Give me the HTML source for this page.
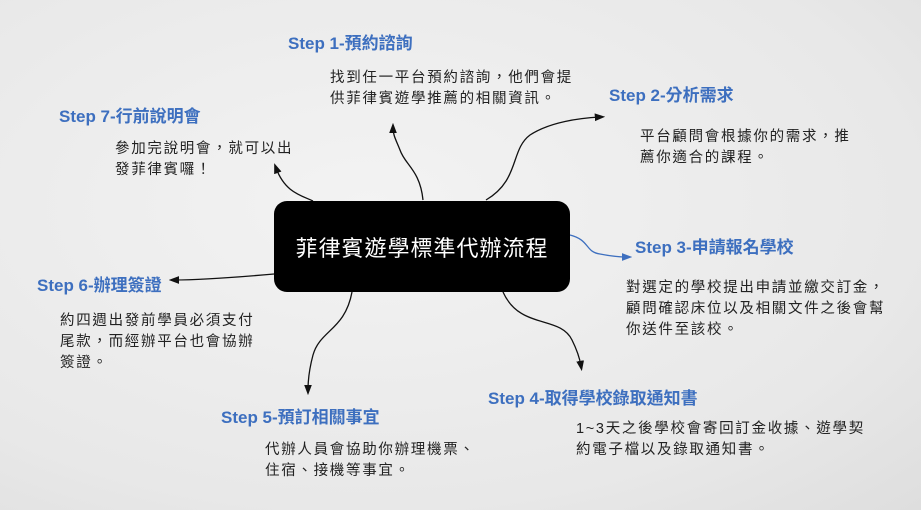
<!DOCTYPE html>
<html><head><meta charset="utf-8"><style>
body{margin:0;width:921px;height:510px;overflow:hidden;background:#ececec;position:relative;font-family:"Liberation Sans","Noto Sans CJK TC",sans-serif;}
.bg{position:absolute;inset:0;background:radial-gradient(ellipse at 40% 40%,#f3f3f3,#e8e8e8 70%,#dedede);}
.h{position:absolute;color:#3d6fbf;font-weight:bold;font-size:17px;white-space:nowrap;}
.t{position:absolute;color:#222;font-size:14.5px;line-height:21px;letter-spacing:1.7px;white-space:nowrap;}
.box{position:absolute;left:274px;top:201px;width:296px;height:91px;background:#000;border-radius:13px;color:#fff;font-size:22px;display:flex;align-items:center;justify-content:center;letter-spacing:1px;}
</style></head><body><div class="bg"></div>
<svg width="921" height="510" style="position:absolute;left:0;top:0">
<defs><marker id="a" markerWidth="8" markerHeight="8" refX="4" refY="4" orient="auto"><path d="M0,1 L8,4 L0,7 z" fill="#111"/></marker>
<marker id="b" markerWidth="8" markerHeight="8" refX="4" refY="4" orient="auto"><path d="M0,1 L8,4 L0,7 z" fill="#3d6fbf"/></marker></defs>
<g fill="none" stroke="#111" stroke-width="1.3">
<path d="M423,200 C420,170 405,165 400,150 C396,140 393,135 393,128" marker-end="url(#a)"/>
<path d="M486,200 C520,180 510,150 530,135 C550,122 580,118 600,117" marker-end="url(#a)"/>
<path d="M313,201 C300,195 285,192 276,168" marker-end="url(#a)"/>
<path d="M274,274 C240,277 200,280 174,280" marker-end="url(#a)"/>
<path d="M352,292 C345,330 320,330 313,355 C309,370 308,380 308,390" marker-end="url(#a)"/>
<path d="M503,292 C520,330 560,315 572,340 C578,352 580,360 581,366" marker-end="url(#a)"/>
</g>
<path d="M570,235 C590,240 585,252 600,254 C610,256 620,257 627,257" fill="none" stroke="#3d6fbf" stroke-width="1.3" marker-end="url(#b)"/>
</svg>
<div class="box">菲律賓遊學標準代辦流程</div>
<div class="h" style="left:288px;top:29px">Step 1-預約諮詢</div>
<div class="t" style="left:330px;top:68px">找到任一平台預約諮詢，他們會提<br>供菲律賓遊學推薦的相關資訊。</div>
<div class="h" style="left:609px;top:81px">Step 2-分析需求</div>
<div class="t" style="left:640px;top:127px">平台顧問會根據你的需求，推<br>薦你適合的課程。</div>
<div class="h" style="left:59px;top:102px">Step 7-行前說明會</div>
<div class="t" style="left:115px;top:139px">參加完說明會，就可以出<br>發菲律賓囉！</div>
<div class="h" style="left:635px;top:233px">Step 3-申請報名學校</div>
<div class="t" style="left:626px;top:278px">對選定的學校提出申請並繳交訂金，<br>顧問確認床位以及相關文件之後會幫<br>你送件至該校。</div>
<div class="h" style="left:37px;top:271px">Step 6-辦理簽證</div>
<div class="t" style="left:60px;top:311px">約四週出發前學員必須支付<br>尾款，而經辦平台也會協辦<br>簽證。</div>
<div class="h" style="left:488px;top:384px">Step 4-取得學校錄取通知書</div>
<div class="t" style="left:576px;top:419px">1~3天之後學校會寄回訂金收據、遊學契<br>約電子檔以及錄取通知書。</div>
<div class="h" style="left:221px;top:403px">Step 5-預訂相關事宜</div>
<div class="t" style="left:265px;top:440px">代辦人員會協助你辦理機票、<br>住宿、接機等事宜。</div>
</body></html>
